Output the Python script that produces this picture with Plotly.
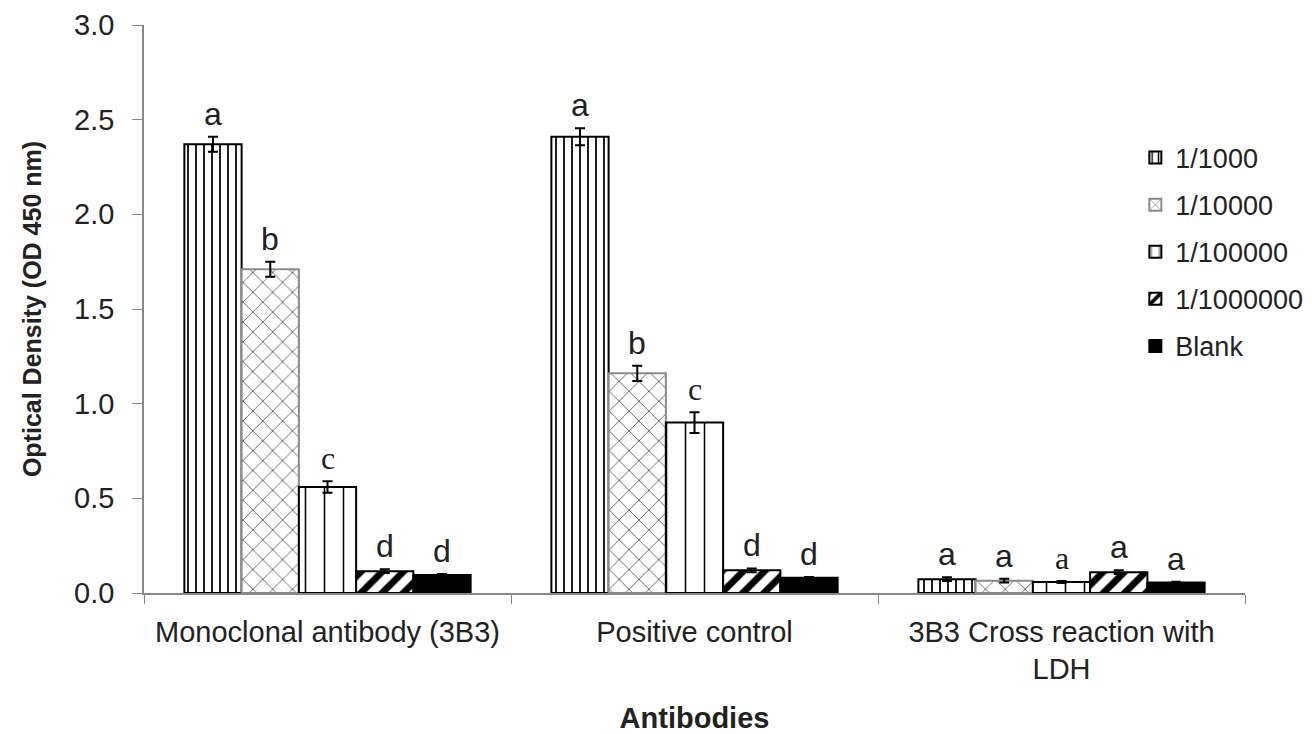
import plotly.graph_objects as go

categories = ["Monoclonal antibody (3B3)", "Positive control", "3B3 Cross reaction with<br>LDH"]
series_names = ["1/1000", "1/10000", "1/100000", "1/1000000", "Blank"]
values = [
    [2.37, 2.41, 0.073],
    [1.71, 1.16, 0.065],
    [0.56, 0.90, 0.058],
    [0.115, 0.12, 0.11],
    [0.095, 0.08, 0.055],
]
errors = [
    [0.04, 0.045, 0.01],
    [0.04, 0.04, 0.01],
    [0.03, 0.055, 0.005],
    [0.01, 0.01, 0.01],
    [0.005, 0.005, 0.004],
]
letters = [
    ["a", "a", "a"],
    ["b", "b", "a"],
    ["c", "c", "a"],
    ["d", "d", "a"],
    ["d", "d", "a"],
]
serif_letters = [
    [False, False, False],
    [False, False, False],
    [True, True, True],
    [False, False, False],
    [False, False, False],
]

styles = [
    dict(shape="|", size=8, solidity=0.22, line="black"),
    dict(shape="x", size=14, solidity=0.08, line="#8a8a8a"),
    dict(shape="|", size=19, solidity=0.08, line="black"),
    dict(shape="/", size=15, solidity=0.45, line="black"),
    dict(shape="", size=8, solidity=0.3, line="black"),
]

fig = go.Figure()
for j, name in enumerate(series_names):
    st = styles[j]
    solid = st["shape"] == ""
    fig.add_trace(go.Bar(
        x=categories, y=values[j], name=name, legendgroup=name,
        marker=dict(
            color="black" if solid else "white",
            line=dict(color=st["line"], width=2),
            pattern=dict(shape=st["shape"], size=st["size"], solidity=st["solidity"],
                         fgcolor="black", bgcolor="white", fillmode="replace") if not solid else None,
        ),
        error_y=dict(type="data", array=errors[j], color="black", thickness=2, width=5, visible=True),
    ))

bargap = 0.22
bw = (1 - bargap) / len(series_names)
annotations = []
for j in range(len(series_names)):
    for i in range(len(categories)):
        annotations.append(dict(
            x=i + (j - 2) * bw, y=values[j][i] + errors[j][i], xref="x", yref="y",
            text=letters[j][i], showarrow=False, yanchor="bottom", yshift=3,
            font=dict(size=32, color="#222",
                      family="Liberation Serif" if serif_letters[j][i] else "Liberation Sans, Arial"),
        ))

fig.update_layout(
    width=1312, height=726,
    margin=dict(l=136, r=72, t=17, b=141),
    paper_bgcolor="white", plot_bgcolor="white",
    barmode="group", bargap=bargap, bargroupgap=0,
    font=dict(family="Liberation Sans, Arial", color="#222", size=29),
    showlegend=True,
    legend=dict(x=0.9004, y=0.809, xanchor="left", yanchor="top", font=dict(size=27),
                tracegroupgap=9, bgcolor="rgba(0,0,0,0)", itemwidth=30),
    annotations=annotations,
)
fig.update_xaxes(
    showline=True, linecolor="#888", linewidth=1.5,
    ticks="outside", tickson="boundaries", ticklen=9, tickcolor="#888",
    ticklabelstandoff=12,
    tickfont=dict(size=29),
    title=dict(text="<b>Antibodies</b>", font=dict(size=29), standoff=28),
    automargin=False,
)
fig.update_yaxes(
    range=[0, 3], dtick=0.5, tickformat=".1f",
    showline=True, linecolor="#888", linewidth=1.5,
    ticks="outside", ticklen=10, tickcolor="#888",
    ticklabelstandoff=12, ticklabeloverflow="allow",
    showgrid=False, zeroline=False,
    tickfont=dict(size=29),
    title=dict(text="<b>Optical Density (OD 450 nm)</b>", font=dict(size=25), standoff=25),
    automargin=False,
)

fig.write_html("out.html")
